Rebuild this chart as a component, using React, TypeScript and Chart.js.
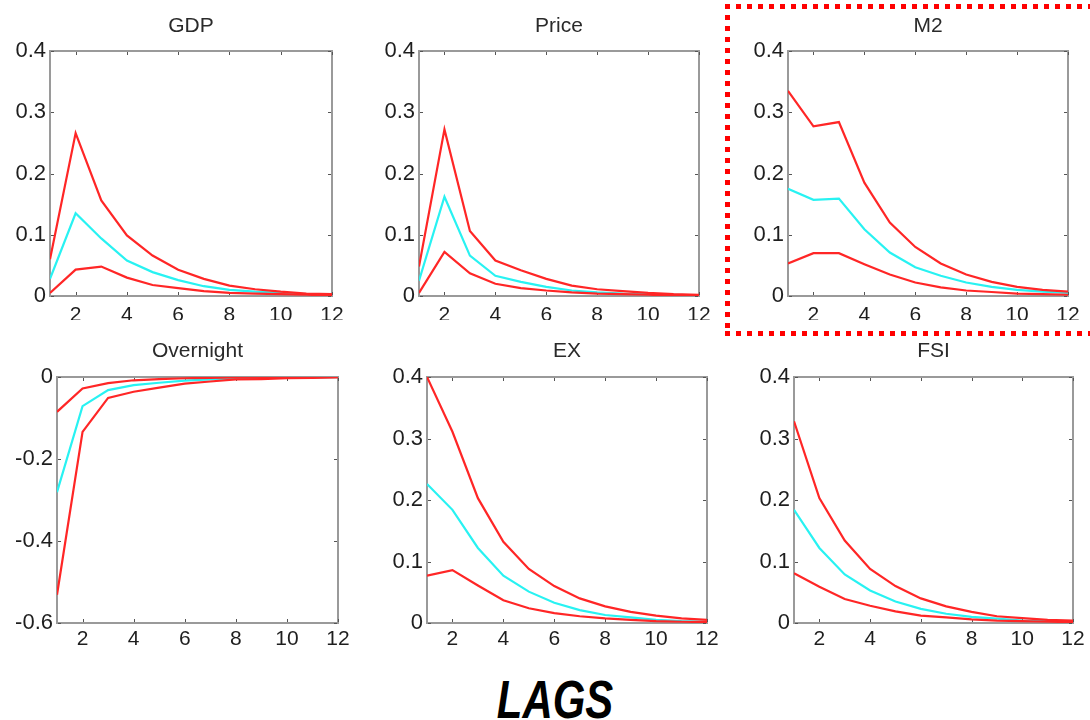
import React, { useEffect, useRef } from 'react';
import { Chart, registerables } from 'chart.js';

Chart.register(...registerables);

// ---------------- data ----------------
const lags = [1, 2, 3, 4, 5, 6, 7, 8, 9, 10, 11, 12];
const xTickValues = [2, 4, 6, 8, 10, 12];
const posYTicks = [0, 0.1, 0.2, 0.3, 0.4];
const negYTicks = [-0.6, -0.4, -0.2, 0];
const panelTitles = ['GDP', 'Price', 'M2', 'Overnight', 'EX', 'FSI'];
const bottomLabel = 'LAGS';

const gdpUpper = [0.06, 0.266, 0.156, 0.099, 0.066, 0.043, 0.028, 0.017, 0.011, 0.007, 0.004, 0.003];
const gdpMid = [0.028, 0.135, 0.094, 0.058, 0.039, 0.026, 0.016, 0.01, 0.007, 0.005, 0.003, 0.002];
const gdpLower = [0.005, 0.043, 0.048, 0.03, 0.018, 0.013, 0.008, 0.005, 0.004, 0.003, 0.002, 0.001];

const priceUpper = [0.048, 0.272, 0.106, 0.058, 0.042, 0.028, 0.017, 0.011, 0.008, 0.005, 0.003, 0.002];
const priceMid = [0.025, 0.162, 0.066, 0.033, 0.023, 0.015, 0.009, 0.006, 0.004, 0.003, 0.002, 0.001];
const priceLower = [0.005, 0.072, 0.037, 0.02, 0.013, 0.009, 0.006, 0.004, 0.003, 0.002, 0.001, 0.001];

const m2Upper = [0.335, 0.277, 0.284, 0.185, 0.12, 0.08, 0.053, 0.035, 0.023, 0.015, 0.01, 0.007];
const m2Mid = [0.175, 0.157, 0.159, 0.109, 0.071, 0.047, 0.033, 0.022, 0.015, 0.01, 0.007, 0.005];
const m2Lower = [0.053, 0.07, 0.07, 0.052, 0.035, 0.022, 0.014, 0.009, 0.0065, 0.004, 0.003, 0.002];

const overnightUpper = [-0.085, -0.028, -0.015, -0.008, -0.005, -0.003, -0.002, -0.001, -0.0005, 0, 0, 0];
const overnightMid = [-0.281, -0.071, -0.032, -0.02, -0.014, -0.009, -0.006, -0.004, -0.002, -0.0015, -0.001, -0.0005];
const overnightLower = [-0.531, -0.134, -0.051, -0.036, -0.026, -0.016, -0.011, -0.006, -0.005, -0.003, -0.002, -0.001];

const exUpper = [0.4, 0.311, 0.203, 0.132, 0.088, 0.06, 0.04, 0.027, 0.018, 0.012, 0.0075, 0.005];
const exMid = [0.226, 0.184, 0.122, 0.077, 0.051, 0.033, 0.021, 0.013, 0.009, 0.005, 0.003, 0.002];
const exLower = [0.077, 0.086, 0.061, 0.037, 0.024, 0.016, 0.011, 0.0075, 0.005, 0.003, 0.002, 0.0015];

const fsiUpper = [0.328, 0.203, 0.134, 0.088, 0.06, 0.04, 0.027, 0.018, 0.011, 0.008, 0.005, 0.004];
const fsiMid = [0.184, 0.122, 0.079, 0.053, 0.035, 0.023, 0.015, 0.01, 0.007, 0.004, 0.003, 0.002];
const fsiLower = [0.081, 0.059, 0.039, 0.028, 0.019, 0.012, 0.009, 0.006, 0.004, 0.003, 0.002, 0.0015];

// ---------------- style / layout ----------------
const FONT = "'Liberation Sans', Arial, Helvetica, sans-serif";
const RED = 'rgb(255, 38, 38)';
const CYAN = 'rgb(40, 242, 242)';
const FRAME = '#9a9a9a';
const TICK_MARK = '#555555';
const TEXT = '#1e1e1e';
const TITLE_SIZE = 21;
const X_TICK_SIZE = 21;
const Y_TICK_SIZE = 22;
const Y_W = 48;
const PAD_R = 22;

type Geo = {
  plotLeft: number;
  plotRight: number;
  plotTop: number;
  plotBottom: number;
  titleCenter: number;
  xPad: number;
  canvasBottom: number;
};

const framePlugin = {
  id: 'matlabFrame',
  beforeDatasetsDraw(chart: any) {
    const { ctx, chartArea } = chart;
    const { left, top, right, bottom } = chartArea;
    const xs = chart.scales.x;
    const ys = chart.scales.y;
    ctx.save();
    ctx.strokeStyle = FRAME;
    ctx.lineWidth = 2;
    ctx.strokeRect(left, top, right - left, bottom - top);
    ctx.strokeStyle = TICK_MARK;
    ctx.lineWidth = 1;
    ctx.beginPath();
    xs.ticks.forEach((t: any) => {
      const px = Math.round(xs.getPixelForValue(t.value)) + 0.5;
      ctx.moveTo(px, bottom - 1);
      ctx.lineTo(px, bottom - 4);
      ctx.moveTo(px, top + 1);
      ctx.lineTo(px, top + 4);
    });
    ys.ticks.forEach((t: any) => {
      const py = Math.round(ys.getPixelForValue(t.value)) + 0.5;
      ctx.moveTo(left + 1, py);
      ctx.lineTo(left + 4, py);
      ctx.moveTo(right - 1, py);
      ctx.lineTo(right - 4, py);
    });
    ctx.stroke();
    ctx.restore();
  },
};

const toXY = (vals: number[]) => lags.map((x, i) => ({ x, y: vals[i] }));

function Panel(props: {
  title: string;
  upper: number[];
  mid: number[];
  lower: number[];
  yTicks: number[];
  geo: Geo;
}) {
  const ref = useRef<HTMLCanvasElement | null>(null);
  const { geo } = props;
  const titleLine = TITLE_SIZE * 1.2;
  const canvasTop = Math.round(geo.titleCenter - titleLine / 2);
  const titlePadBottom = geo.plotTop - canvasTop - titleLine;
  const xH = geo.canvasBottom - geo.plotBottom;
  const canvasLeft = geo.plotLeft - Y_W;
  const canvasW = Math.round(Y_W + (geo.plotRight - geo.plotLeft) + PAD_R);
  const canvasH = Math.round(geo.canvasBottom - canvasTop);

  useEffect(() => {
    if (!ref.current) return;
    const yMin = props.yTicks[0];
    const yMax = props.yTicks[props.yTicks.length - 1];
    const line = (vals: number[], color: string) => ({
      data: toXY(vals),
      borderColor: color,
      backgroundColor: color,
      borderWidth: 2.2,
      pointRadius: 0,
      fill: false,
      tension: 0,
    });
    const chart = new Chart(ref.current, {
      type: 'line',
      data: {
        datasets: [line(props.upper, RED), line(props.lower, RED), line(props.mid, CYAN)],
      },
      options: {
        animation: false,
        responsive: false,
        maintainAspectRatio: false,
        events: [],
        layout: { padding: { left: 0, right: PAD_R, top: 0, bottom: 0 } },
        plugins: {
          legend: { display: false },
          tooltip: { enabled: false },
          title: {
            display: true,
            text: props.title,
            color: '#2a2a2a',
            fullSize: false,
            font: { family: FONT, size: TITLE_SIZE, weight: 'normal' },
            padding: { top: 0, bottom: titlePadBottom },
          },
        },
        scales: {
          x: {
            type: 'linear',
            min: lags[0],
            max: lags[lags.length - 1],
            grid: { display: false, drawTicks: false },
            border: { display: false },
            afterBuildTicks: (s: any) => {
              s.ticks = xTickValues.map((v) => ({ value: v }));
            },
            afterFit: (s: any) => {
              s.height = xH;
            },
            ticks: {
              autoSkip: false,
              maxRotation: 0,
              padding: geo.xPad,
              color: TEXT,
              font: { family: FONT, size: X_TICK_SIZE },
              callback: (v: any) => String(v),
            },
          },
          y: {
            type: 'linear',
            min: yMin,
            max: yMax,
            grid: { display: false, drawTicks: false },
            border: { display: false },
            afterBuildTicks: (s: any) => {
              s.ticks = props.yTicks.map((v) => ({ value: v }));
            },
            afterFit: (s: any) => {
              s.width = Y_W;
            },
            ticks: {
              autoSkip: false,
              padding: 4,
              color: TEXT,
              font: { family: FONT, size: Y_TICK_SIZE },
              callback: (v: any) => String(v),
            },
          },
        },
      },
      plugins: [framePlugin],
    } as any);
    return () => chart.destroy();
  }, []);

  return (
    <canvas
      ref={ref}
      width={canvasW}
      height={canvasH}
      style={{ position: 'absolute', left: canvasLeft, top: canvasTop, width: canvasW, height: canvasH }}
    />
  );
}

const TOP = { plotTop: 51, plotBottom: 296, titleCenter: 27, xPad: 7, canvasBottom: 320 };
const BOT = { plotTop: 377, plotBottom: 623, titleCenter: 352, xPad: 4, canvasBottom: 664 };

const dotH = (w: number) => ({
  height: 5,
  width: w,
  background: `repeating-linear-gradient(to right, #f00 0px, #f00 5px, transparent 5px, transparent 11px)`,
});
const dotV = (h: number) => ({
  width: 5,
  height: h,
  background: `repeating-linear-gradient(to bottom, #f00 0px, #f00 5px, transparent 5px, transparent 11px)`,
});

export default function App() {
  return (
    <div
      style={{
        position: 'absolute',
        left: 0,
        top: 0,
        width: 1090,
        height: 720,
        background: '#ffffff',
        overflow: 'hidden',
      }}
    >
      <Panel title={panelTitles[0]} upper={gdpUpper} mid={gdpMid} lower={gdpLower} yTicks={posYTicks}
        geo={{ ...TOP, plotLeft: 50, plotRight: 332 }} />
      <Panel title={panelTitles[1]} upper={priceUpper} mid={priceMid} lower={priceLower} yTicks={posYTicks}
        geo={{ ...TOP, plotLeft: 419, plotRight: 699 }} />
      <Panel title={panelTitles[2]} upper={m2Upper} mid={m2Mid} lower={m2Lower} yTicks={posYTicks}
        geo={{ ...TOP, plotLeft: 788, plotRight: 1068 }} />
      <Panel title={panelTitles[3]} upper={overnightUpper} mid={overnightMid} lower={overnightLower} yTicks={negYTicks}
        geo={{ ...BOT, plotLeft: 57, plotRight: 338 }} />
      <Panel title={panelTitles[4]} upper={exUpper} mid={exMid} lower={exLower} yTicks={posYTicks}
        geo={{ ...BOT, plotLeft: 427, plotRight: 707 }} />
      <Panel title={panelTitles[5]} upper={fsiUpper} mid={fsiMid} lower={fsiLower} yTicks={posYTicks}
        geo={{ ...BOT, plotLeft: 794, plotRight: 1073 }} />

      {/* red dotted highlight box around M2 */}
      <div style={{ position: 'absolute', left: 725, top: 4, ...dotH(370) }} />
      <div style={{ position: 'absolute', left: 725, top: 331, ...dotH(370) }} />
      <div style={{ position: 'absolute', left: 725, top: 4, ...dotV(332) }} />

      <div
        style={{
          position: 'absolute',
          left: 555,
          top: 673,
          fontFamily: FONT,
          fontSize: 53,
          lineHeight: '53px',
          fontWeight: 'bold',
          fontStyle: 'italic',
          color: '#000',
          whiteSpace: 'nowrap',
          transform: 'translateX(-50%) scaleX(0.79)',
          transformOrigin: 'center',
        }}
      >
        {bottomLabel}
      </div>
    </div>
  );
}
